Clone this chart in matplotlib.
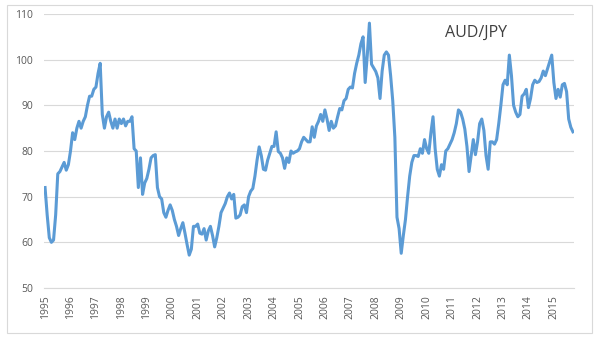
import matplotlib
matplotlib.use("Agg")
import matplotlib.pyplot as plt
from matplotlib.patches import Rectangle

# monthly AUD/JPY closes, Jan 1995 .. Oct 2015
aud_jpy_1995 = [72, 66, 61, 60, 60.5, 66, 75, 75.5, 76.5, 77.5, 75.8, 77]
aud_jpy_1996 = [80, 84, 82.5, 85, 86.5, 85, 86.5, 87.5, 90, 92, 92, 93.5]
aud_jpy_1997 = [94, 97, 99.2, 88, 85, 87.5, 88.5, 86.5, 85, 87, 85, 87]
aud_jpy_1998 = [86, 87, 85.5, 86.5, 86.5, 87.5, 80.5, 80, 72, 78.5, 70.5, 73]
aud_jpy_1999 = [74, 76, 78.5, 79, 79.2, 72, 70, 69.5, 66.5, 65.5, 67, 68.2]
aud_jpy_2000 = [67, 65, 63.5, 61.5, 63, 64.3, 62, 59.5, 57.2, 58.5, 63.5, 63.5]
aud_jpy_2001 = [64, 62, 61.8, 63, 60.5, 62.5, 63.5, 61.5, 59, 61, 63.5, 66.5]
aud_jpy_2002 = [67.5, 68.5, 70, 70.8, 69.5, 70.5, 65.3, 65.5, 66, 67.8, 68.2, 66.5]
aud_jpy_2003 = [70, 71.2, 71.8, 74.5, 78, 80.9, 79, 76, 75.8, 78, 79.5, 81]
aud_jpy_2004 = [81, 84.2, 79.9, 79.5, 78.5, 76.2, 78.5, 77.5, 80, 79.5, 79.8, 80]
aud_jpy_2005 = [80.5, 82, 83, 82.5, 82, 82, 85.3, 83, 85.5, 86.5, 88, 86.5]
aud_jpy_2006 = [89, 87, 84.5, 86.5, 85, 85.5, 87.5, 89.3, 89, 91, 91.5, 93.5]
aud_jpy_2007 = [94, 93.8, 97, 99.2, 101, 103.5, 105, 95, 101, 108, 99, 98.2]
aud_jpy_2008 = [97.4, 96, 91.5, 97.5, 101, 101.7, 101, 96.5, 91, 83, 65.5, 63]
aud_jpy_2009 = [57.6, 61.5, 65, 70, 74.5, 77.5, 79, 79, 78.8, 80.5, 79.5, 82.5]
aud_jpy_2010 = [80.5, 79.5, 84, 87.5, 80.5, 76, 74.5, 77, 76, 80, 80.5, 81.5]
aud_jpy_2011 = [82.5, 84, 86, 89, 88.5, 87, 84.8, 81, 75.5, 79, 82.5, 79.2]
aud_jpy_2012 = [82, 86, 87, 84.5, 79, 76, 82, 82, 81.5, 82.5, 86, 90]
aud_jpy_2013 = [94.5, 95.5, 94.5, 101, 96.5, 90, 88.5, 87.5, 88, 92, 92.5, 93.5]
aud_jpy_2014 = [89.5, 91.5, 94.5, 95.5, 95, 95.2, 96, 97.5, 96.5, 98, 99.5, 101]
aud_jpy_2015 = [95, 91.5, 93.5, 91.8, 94.5, 94.8, 93, 87, 85.2, 84.2]

years = list(range(1995, 2016))
yticks = [50, 60, 70, 80, 90, 100, 110]

rates = (aud_jpy_1995 + aud_jpy_1996 + aud_jpy_1997 + aud_jpy_1998 + aud_jpy_1999
         + aud_jpy_2000 + aud_jpy_2001 + aud_jpy_2002 + aud_jpy_2003 + aud_jpy_2004
         + aud_jpy_2005 + aud_jpy_2006 + aud_jpy_2007 + aud_jpy_2008 + aud_jpy_2009
         + aud_jpy_2010 + aud_jpy_2011 + aud_jpy_2012 + aud_jpy_2013 + aud_jpy_2014
         + aud_jpy_2015)
months = list(range(len(rates)))

plt.rcParams['font.family'] = ['Open Sans', 'DejaVu Sans']

fig = plt.figure(figsize=(6.0, 3.41), dpi=100)
ax = fig.add_axes([44 / 600, 1 - 288 / 341, 530 / 600, 274 / 341])

# chart border
fig.patches.append(Rectangle((7 / 600, 1 - 333 / 341), 585 / 600, 328 / 341,
                             transform=fig.transFigure, fill=False,
                             edgecolor='#d9d9d9', linewidth=0.8))

ax.plot(months, rates, color='#5b9bd5', linewidth=2.2, solid_joinstyle='round')

ax.set_xlim(-0.5, len(rates) - 0.5)
ax.set_ylim(50, 110)
ax.set_yticks(yticks)
ax.set_xticks([12 * i for i in range(len(years))])
ax.set_xticklabels([str(y) for y in years], rotation=90)

ax.grid(axis='y', color='#d9d9d9', linewidth=0.8)
ax.set_axisbelow(True)
for side in ['top', 'right', 'left']:
    ax.spines[side].set_visible(False)
ax.spines['bottom'].set_color('#d9d9d9')
ax.spines['bottom'].set_linewidth(0.8)
ax.tick_params(axis='both', length=0, colors='#595959', labelsize=7.5)
ax.tick_params(axis='y', pad=8)
ax.tick_params(axis='x', pad=5)

fig.text(476 / 600, 1 - 33 / 341, 'AUD/JPY', fontsize=11.5, color='#404040',
         ha='center', va='center')

fig.savefig('out.png', dpi=100)
